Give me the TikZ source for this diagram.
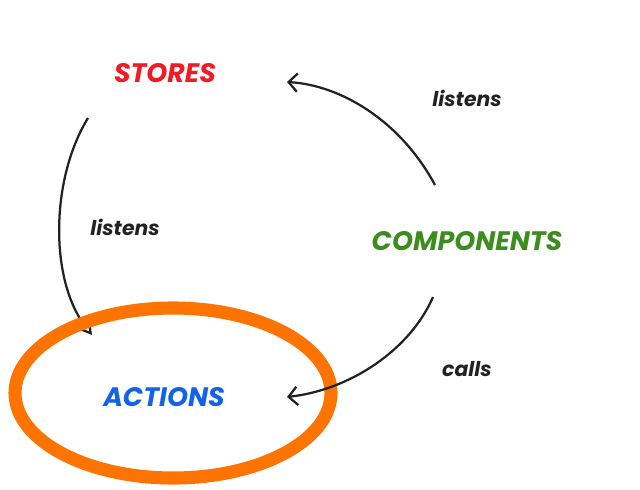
\documentclass[tikz,border=0pt]{standalone}
\usepackage{fontspec}
\setmainfont{Poppins}
\usepackage{tikz}
\usetikzlibrary{arrows.meta,positioning}
\definecolor{fluxRed}{HTML}{EE1C25}
\definecolor{fluxGreen}{HTML}{3C8C1E}
\definecolor{fluxBlue}{HTML}{1463E6}
\definecolor{fluxOrange}{HTML}{FF7400}
\definecolor{inkGray}{HTML}{222222}

\begin{document}
\begin{tikzpicture}[
  x=0.025cm, y=-0.025cm,
  part/.style={font=\fontsize{19}{22}\selectfont\bfseries\itshape, inner sep=0pt},
  verb/.style={font=\fontsize{14.5}{17}\selectfont\bfseries\itshape, text=inkGray, inner sep=0pt},
  arr/.style={line width=1.6pt, color=inkGray, -{Straight Barb[length=2.2mm, width=4.6mm]}},
  tri/.style={line width=1.6pt, color=inkGray, -{Triangle[open, length=3mm, width=3.4mm]}}
]
  \useasboundingbox (0,0) rectangle (640,489);

  \node[part, text=fluxRed] (stores) at (165,73) {STORES};
  \node[part, text=fluxGreen] (comp) at (467,241) {COMPONENTS};
  \node[part, text=fluxBlue] (actions) at (164,397) {ACTIONS};

  \node[verb] (lis1) at (467,98) {listens};
  \node[verb] (lis2) at (125,227) {listens};
  \node[verb] (calls) at (467,369) {calls};

  % arc ends
  \coordinate (compTop) at (435,185);
  \coordinate (storesIn) at (287,82);
  \coordinate (storesOut) at (88,118);
  \coordinate (actionsIn) at (92,335);
  \coordinate (compBot) at (433,297);
  \coordinate (actionsEnd) at (287,397);

  \draw[arr] (compTop) .. controls (400,120) and (340,85) .. (storesIn);
  \draw[tri] (storesOut) .. controls (50,180) and (50,280) .. (actionsIn);

  % ring round actions
  \draw[fluxOrange, line width=9.3pt] (173,393) ellipse (158 and 85);

  \draw[arr] (compBot) .. controls (410,350) and (350,390) .. (actionsEnd);
\end{tikzpicture}
\end{document}
